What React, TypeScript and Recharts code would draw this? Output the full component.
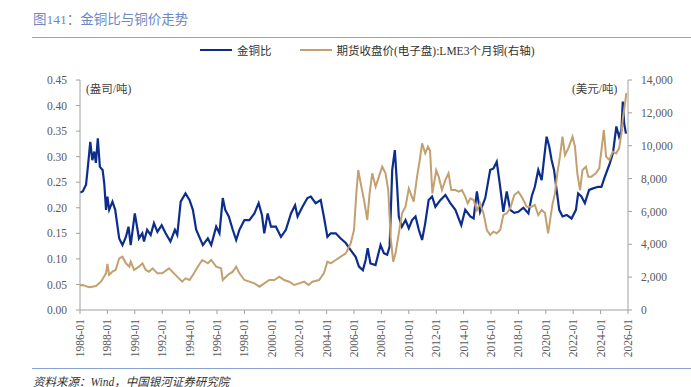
import { LineChart, Line, XAxis, YAxis } from 'recharts'

const SERIF = '"Liberation Serif", "Times New Roman", "Noto Sans CJK SC", serif'

const xTicks = [1986, 1988, 1990, 1992, 1994, 1996, 1998, 2000, 2002, 2004, 2006, 2008, 2010, 2012, 2014, 2016, 2018, 2020, 2022, 2024, 2026]
const leftTicks = [0, 0.05, 0.1, 0.15, 0.2, 0.25, 0.3, 0.35, 0.4, 0.45]
const rightTicks = [0, 2000, 4000, 6000, 8000, 10000, 12000, 14000]

// 金铜比 (盎司/吨)
const ratioDates = [
  1986.0, 1986.2, 1986.44, 1986.6, 1986.75, 1986.9, 1987.04, 1987.16, 1987.3, 1987.45,
  1987.65, 1987.77, 1987.9, 1988.0, 1988.13, 1988.37, 1988.57, 1988.74, 1988.86, 1989.1,
  1989.35, 1989.54, 1989.7, 1990.0, 1990.2, 1990.3, 1990.55, 1990.67, 1990.9, 1991.16,
  1991.4, 1991.65, 1991.96, 1992.25, 1992.6, 1992.93, 1993.1, 1993.35, 1993.7, 1994.0,
  1994.24, 1994.48, 1994.97, 1995.33, 1995.58, 1995.94, 1996.18, 1996.42, 1996.6, 1996.86,
  1997.15, 1997.4, 1997.64, 1998.0, 1998.36, 1998.73, 1999.04, 1999.28, 1999.45, 1999.7,
  1999.94, 2000.3, 2000.67, 2001.03, 2001.4, 2001.7, 2001.88, 2002.24, 2002.6, 2002.85,
  2003.2, 2003.57, 2003.8, 2004.06, 2004.3, 2004.67, 2005.03, 2005.4, 2005.76, 2006.12,
  2006.36, 2006.65, 2006.85, 2007.0, 2007.2, 2007.57, 2007.94, 2008.18, 2008.42, 2008.6,
  2008.79, 2008.98, 2009.15, 2009.27, 2009.5, 2009.76, 2010.0, 2010.24, 2010.49, 2010.73,
  2010.97, 2011.2, 2011.45, 2011.7, 2011.94, 2012.3, 2012.67, 2013.03, 2013.4, 2013.83,
  2014.12, 2014.49, 2014.73, 2014.97, 2015.2, 2015.58, 2015.94, 2016.18, 2016.42, 2016.67,
  2016.9, 2017.15, 2017.4, 2017.7, 2018.0, 2018.36, 2018.73, 2018.97, 2019.2, 2019.45,
  2019.7, 2019.89, 2020.06, 2020.25, 2020.42, 2020.6, 2020.79, 2020.98, 2021.22, 2021.52,
  2021.88, 2022.2, 2022.36, 2022.6, 2022.85, 2023.16, 2023.45, 2023.82, 2024.06, 2024.3,
  2024.67, 2024.9, 2025.15, 2025.35, 2025.52, 2025.62, 2025.72, 2025.85,
]
const ratioValues = [
  0.23, 0.232, 0.245, 0.287, 0.329, 0.293, 0.31, 0.288, 0.336, 0.28,
  0.274, 0.248, 0.196, 0.222, 0.196, 0.212, 0.196, 0.163, 0.14, 0.127,
  0.143, 0.163, 0.127, 0.189, 0.157, 0.14, 0.15, 0.134, 0.157, 0.147,
  0.17, 0.153, 0.166, 0.15, 0.134, 0.157, 0.147, 0.212, 0.228, 0.215,
  0.196, 0.157, 0.127, 0.14, 0.127, 0.163, 0.15, 0.219, 0.196, 0.183,
  0.157, 0.137, 0.157, 0.176, 0.176, 0.189, 0.209, 0.186, 0.15, 0.189,
  0.163, 0.163, 0.143, 0.157, 0.189, 0.205, 0.183, 0.202, 0.219, 0.222,
  0.209, 0.215, 0.183, 0.143, 0.15, 0.15, 0.14, 0.131, 0.117, 0.104,
  0.085, 0.078, 0.098, 0.121, 0.091, 0.088, 0.127, 0.111, 0.108, 0.124,
  0.274, 0.313, 0.241, 0.183, 0.163, 0.176, 0.16, 0.176, 0.183, 0.157,
  0.137, 0.17, 0.215, 0.222, 0.202, 0.215, 0.225, 0.209, 0.196, 0.166,
  0.196, 0.183, 0.179, 0.232, 0.192, 0.219, 0.274, 0.277, 0.29, 0.241,
  0.192, 0.232, 0.196, 0.19, 0.192, 0.2, 0.189, 0.222, 0.241, 0.274,
  0.254, 0.3, 0.339, 0.32, 0.294, 0.274, 0.235, 0.196, 0.183, 0.186,
  0.179, 0.196, 0.228, 0.222, 0.209, 0.235, 0.238, 0.241, 0.241, 0.26,
  0.287, 0.307, 0.359, 0.339, 0.352, 0.408, 0.365, 0.345,
]

// LME3个月铜 (美元/吨), right axis
const copperDates = [
  1986.0, 1986.2, 1986.68, 1987.16, 1987.53, 1987.9, 1988.0, 1988.13, 1988.37, 1988.6,
  1988.86, 1989.1, 1989.35, 1989.6, 1989.7, 1989.95, 1990.3, 1990.56, 1990.8, 1991.04,
  1991.3, 1991.65, 1992.0, 1992.5, 1992.86, 1993.22, 1993.46, 1993.7, 1994.0, 1994.24,
  1994.6, 1994.92, 1995.33, 1995.58, 1995.94, 1996.3, 1996.42, 1996.78, 1997.15, 1997.4,
  1997.64, 1998.0, 1998.36, 1998.73, 1999.1, 1999.45, 1999.82, 2000.18, 2000.55, 2000.9,
  2001.27, 2001.64, 2002.0, 2002.36, 2002.68, 2002.97, 2003.45, 2003.8, 2004.06, 2004.3,
  2004.67, 2005.03, 2005.4, 2005.76, 2006.0, 2006.17, 2006.31, 2006.49, 2006.73, 2006.97,
  2007.14, 2007.33, 2007.58, 2007.82, 2008.06, 2008.3, 2008.5, 2008.67, 2008.86, 2009.03,
  2009.27, 2009.51, 2009.76, 2010.0, 2010.36, 2010.6, 2010.8, 2010.97, 2011.2, 2011.4,
  2011.55, 2011.72, 2012.0, 2012.18, 2012.42, 2012.67, 2012.9, 2013.1, 2013.4, 2013.64,
  2013.88, 2014.12, 2014.3, 2014.5, 2014.73, 2014.97, 2015.2, 2015.45, 2015.7, 2015.94,
  2016.18, 2016.42, 2016.67, 2016.9, 2017.15, 2017.4, 2017.7, 2018.0, 2018.3, 2018.6,
  2018.97, 2019.2, 2019.45, 2019.7, 2019.94, 2020.17, 2020.35, 2020.5, 2020.67, 2020.84,
  2021.03, 2021.22, 2021.4, 2021.64, 2021.95, 2022.13, 2022.3, 2022.5, 2022.68, 2022.93,
  2023.1, 2023.33, 2023.65, 2023.9, 2024.24, 2024.4, 2024.64, 2024.88, 2025.13, 2025.35,
  2025.52, 2025.64, 2025.8, 2025.88,
]
const copperValues = [
  1500, 1522, 1380, 1461, 1724, 2232, 2800, 2130, 2333, 2435,
  3145, 3246, 2841, 2638, 2942, 2435, 2638, 2841, 2435, 2333,
  2536, 2232, 2232, 2536, 2232, 1927, 1724, 1927, 1826, 2130,
  2638, 3043, 2841, 3043, 2638, 2536, 1826, 2130, 2333, 2638,
  2232, 1826, 1724, 1623, 1420, 1623, 1826, 1826, 2029, 1826,
  1724, 1522, 1623, 1724, 1522, 1724, 1826, 2232, 2942, 2841,
  3043, 3246, 3449, 4058, 4870, 7100, 8522, 7710, 6696, 5478,
  7100, 8319, 7507, 8116, 8725, 8319, 7304, 4464, 2942, 3449,
  4667, 5884, 6290, 7400, 6600, 8100, 9130, 10145, 9536, 9942,
  9700, 7100, 8500, 8116, 7304, 7913, 8319, 7304, 7304, 7202,
  7304, 6899, 6493, 6797, 6696, 6087, 6493, 5884, 4870, 4565,
  4768, 4667, 4870, 5783, 5884, 6189, 7000, 7202, 6800, 6290,
  6290, 6392, 5783, 6087, 5900, 4667, 5681, 6493, 7100, 8319,
  9333, 10551, 9435, 9841, 10551, 9942, 8319, 7304, 8522, 8725,
  8116, 8116, 8319, 8624, 10957, 9333, 9130, 9637, 9536, 9841,
  10753, 11768, 12681, 13200,
]

const ratioData = ratioDates.map((t, i) => ({ t, v: ratioValues[i] }))
const copperData = copperDates.map((t, i) => ({ t, v: copperValues[i] }))

const BLUE = '#0c2d8c'
const TAN = '#c3a06f'
const AXIS = '#a0a0a0'
const TICK_TEXT = '#595959'

function YearTick({ x, y, payload }: any) {
  const ty = y + 3
  return (
    <text
      x={x}
      y={ty}
      transform={`rotate(-90 ${x} ${ty})`}
      textAnchor="end"
      dominantBaseline="central"
      fill={TICK_TEXT}
      fontSize={11.5}
      fontFamily={SERIF}
    >
      {`${payload.value}-01`}
    </text>
  )
}

const fmtRight = (v: number) => v.toLocaleString('en-US')
const fmtLeft = (v: number) => v.toFixed(2)

export default function App() {
  return (
    <div style={{ position: 'absolute', left: 0, top: 0, width: 691, height: 387, background: '#fff', fontFamily: SERIF }}>
      <div style={{ position: 'absolute', left: 33, top: 8, fontSize: 13.5, color: '#6f88c4', whiteSpace: 'nowrap' }}>
        图141：金铜比与铜价走势
      </div>
      <div style={{ position: 'absolute', left: 32, top: 37, width: 659, height: 1, background: '#8aa3d6' }} />

      <div style={{ position: 'absolute', left: 200, top: 42, display: 'flex', alignItems: 'center', fontSize: 11.5, color: '#333', whiteSpace: 'nowrap' }}>
        <span style={{ display: 'inline-block', width: 32, height: 2, background: BLUE, marginRight: 5 }} />
        <span>金铜比</span>
        <span style={{ display: 'inline-block', width: 32, height: 2, background: TAN, marginLeft: 28, marginRight: 5 }} />
        <span>期货收盘价(电子盘):LME3个月铜(右轴)</span>
      </div>

      <div style={{ position: 'absolute', left: 86, top: 80, fontSize: 11.5, color: '#404040' }}>(盎司/吨)</div>
      <div style={{ position: 'absolute', left: 572, top: 80, fontSize: 11.5, color: '#404040' }}>(美元/吨)</div>

      <div style={{ position: 'absolute', left: 0, top: 0 }}>
        <LineChart width={691} height={387} margin={{ top: 80, right: 0, bottom: 17, left: 0 }}>
          <XAxis
            dataKey="t"
            type="number"
            domain={[1986, 2026]}
            ticks={xTicks}
            interval={0}
            allowDataOverflow
            height={60}
            tick={<YearTick />}
            tickSize={4}
            stroke={AXIS}
            tickLine={{ stroke: AXIS }}
          />
          <YAxis
            yAxisId="left"
            orientation="left"
            width={80}
            domain={[0, 0.45]}
            ticks={leftTicks}
            tickFormatter={fmtLeft}
            tickSize={4}
            tickMargin={9}
            stroke={AXIS}
            tick={{ fill: TICK_TEXT, fontSize: 11.5, fontFamily: SERIF }}
          />
          <YAxis
            yAxisId="right"
            orientation="right"
            width={63}
            domain={[0, 14000]}
            ticks={rightTicks}
            tickFormatter={fmtRight}
            tickSize={4}
            tickMargin={9}
            stroke={AXIS}
            tick={{ fill: TICK_TEXT, fontSize: 11.5, fontFamily: SERIF }}
          />
          <Line
            yAxisId="left"
            data={ratioData}
            dataKey="v"
            type="linear"
            stroke={BLUE}
            strokeWidth={2.2}
            dot={false}
            isAnimationActive={false}
          />
          <Line
            yAxisId="right"
            data={copperData}
            dataKey="v"
            type="linear"
            stroke={TAN}
            strokeWidth={2}
            dot={false}
            isAnimationActive={false}
          />
        </LineChart>
      </div>

      <div style={{ position: 'absolute', left: 32, top: 368, width: 659, height: 1, background: '#8aa3d6' }} />
      <div style={{ position: 'absolute', left: 33, top: 373, fontSize: 11.5, fontStyle: 'italic', color: '#333', whiteSpace: 'nowrap' }}>
        资料来源：Wind，中国银河证券研究院
      </div>
    </div>
  )
}
